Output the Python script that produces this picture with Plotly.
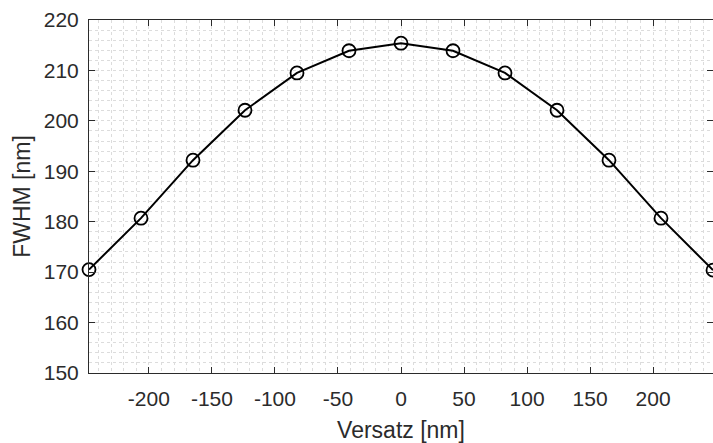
import plotly.graph_objects as go

versatz = [-247.5, -206.25, -165.0, -123.75, -82.5, -41.25, 0.0, 41.25, 82.5, 123.75, 165.0, 206.25, 247.5]
fwhm = [170.5, 180.7, 192.2, 202.1, 209.5, 213.9, 215.4, 213.9, 209.5, 202.1, 192.2, 180.7, 170.4]
x_ticks = [-200, -150, -100, -50, 0, 50, 100, 150, 200]
y_ticks = [150, 160, 170, 180, 190, 200, 210, 220]

TXT = "#2b2b2b"
GRID = "#dcdcdc"
FONT = "Liberation Sans, Arial, sans-serif"

fig = go.Figure()
fig.add_trace(go.Scatter(
    x=versatz, y=fwhm, mode="lines+markers",
    line=dict(color="black", width=2),
    marker=dict(symbol="circle-open", size=13, color="black", line=dict(width=1.8)),
    cliponaxis=False, showlegend=False,
))

axis_common = dict(
    showline=True, linecolor=TXT, linewidth=1, mirror="ticks",
    ticks="inside", ticklen=6, tickcolor=TXT, tickwidth=1,
    showgrid=True, gridcolor=GRID, griddash="dot", gridwidth=1,
    zeroline=False, automargin=False,
    tickfont=dict(family=FONT, size=21, color=TXT),
)

fig.update_xaxes(
    range=[-247.5, 247.5], tickvals=x_ticks, ticktext=[str(v) for v in x_ticks],
    ticklabelstandoff=7,
    title=dict(text="Versatz [nm]", font=dict(family=FONT, size=23, color=TXT), standoff=13),
    minor=dict(dtick=10, tick0=0, showgrid=True, gridcolor=GRID, griddash="dot", gridwidth=1),
    **axis_common,
)
fig.update_yaxes(
    range=[150, 220], tickvals=y_ticks, ticktext=[str(v) for v in y_ticks],
    ticklabelstandoff=5,
    title=dict(text="FWHM [nm]", font=dict(family=FONT, size=23, color=TXT), standoff=6),
    minor=dict(dtick=2, tick0=150, showgrid=True, gridcolor=GRID, griddash="dot", gridwidth=1),
    **axis_common,
)

fig.update_layout(
    width=713, height=443,
    margin=dict(l=89, r=0, t=20, b=70),
    plot_bgcolor="white", paper_bgcolor="white",
    font=dict(family=FONT, color=TXT),
)

fig.write_html(
    "out.html",
    config={"displayModeBar": False},
    post_script="document.body.style.margin='0';document.body.style.overflow='hidden';",
)
